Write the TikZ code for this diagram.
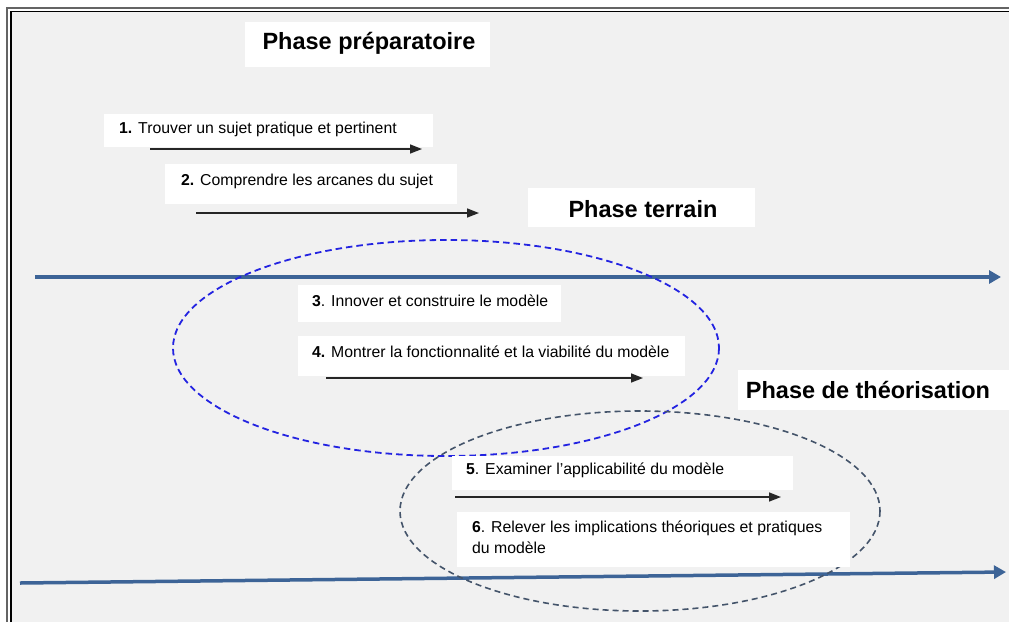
\documentclass[tikz,border=0pt]{standalone}
\usepackage{fontspec}
\setmainfont{Liberation Sans}
\usetikzlibrary{arrows.meta}
\definecolor{bg}{RGB}{241,241,241}
\definecolor{axis}{RGB}{61,100,151}
\definecolor{ellblue}{RGB}{35,35,225}
\definecolor{ellgray}{RGB}{68,84,106}
\definecolor{framegray}{RGB}{100,100,100}
\tikzset{
  whitebox/.style={fill=white, draw=none, inner sep=0pt, anchor=north west},
  steptext/.style={anchor=west, inner sep=0pt, font=\fontsize{15.8}{20.5}\selectfont, align=left},
  phasetext/.style={inner sep=0pt, font=\fontsize{23.5}{28}\selectfont\bfseries},
  steparrow/.style={line width=1.5pt, draw=black!85, -{Triangle[length=12pt,width=9pt]}},
  axisarrow/.style={line width=3.5pt, draw=axis, -{Triangle[length=12pt,width=13pt]}},
  ellipseblue/.style={draw=ellblue, line width=1.8pt, dash pattern=on 6.5pt off 4pt},
  ellipsegray/.style={draw=ellgray, line width=1.6pt, dash pattern=on 6pt off 4pt},
}
\begin{document}
\begin{tikzpicture}[x=1pt,y=-1pt]
\useasboundingbox (0,0) rectangle (1009,622);
\fill[white] (0,0) rectangle (1009,622);
\fill[bg] (12,12) rectangle (1009,622);
% frame
\draw[framegray, line width=2.5pt] (7,622) -- (7,8) -- (1009,8);
\draw[black, line width=1.5pt] (11,622) -- (11,11.5) -- (1009,11.5);

% phase titles
\node[whitebox, minimum width=245pt, minimum height=45pt] (pprep) at (245,22) {};
\node[phasetext] (tprep) at (369,43) {Phase préparatoire};
\node[whitebox, minimum width=227pt, minimum height=39pt] (pterr) at (528,188) {};
\node[phasetext] (tterr) at (643,209) {Phase terrain};
\node[whitebox, minimum width=271pt, minimum height=40pt] (ptheo) at (738,370) {};
\node[phasetext] (ttheo) at (868,390) {Phase de théorisation};

% axes
\coordinate (a1s) at (35,277);
\coordinate (a1e) at (1001,277);
\draw[axisarrow] (a1s) -- (a1e);
\coordinate (a2s) at (20,583);
\coordinate (a2e) at (1006,572);
\draw[axisarrow] (a2s) -- (a2e);

% ellipses
\draw[ellipseblue] (446,348) ellipse [x radius=273, y radius=108];
\draw[ellipsegray] (640,511) ellipse [x radius=240, y radius=100];

% step boxes
\node[whitebox, minimum width=329pt, minimum height=33pt] (b1) at (104,114) {};
\node[steptext] (t1) at (119,129) {\textbf{1.} Trouver un sujet pratique et pertinent};
\node[whitebox, minimum width=292pt, minimum height=40pt] (b2) at (165,164) {};
\node[steptext] (t2) at (181,181) {\textbf{2.} Comprendre les arcanes du sujet};
\node[whitebox, minimum width=263pt, minimum height=37pt] (b3) at (298,285) {};
\node[steptext] (t3) at (312,301) {\textbf{3}. Innover et construire le modèle};
\node[whitebox, minimum width=387pt, minimum height=40pt] (b4) at (298,336) {};
\node[steptext] (t4) at (312,352) {\textbf{4.} Montrer la fonctionnalité et la viabilité du modèle};
\node[whitebox, minimum width=341pt, minimum height=34pt] (b5) at (452,456) {};
\node[steptext] (t5) at (466,470) {\textbf{5}. Examiner l’applicabilité du modèle};
\node[whitebox, minimum width=393pt, minimum height=55pt] (b6) at (457,512) {};
\node[steptext] (t6) at (472,537) {\textbf{6}. Relever les implications théoriques et pratiques\\du modèle};

% step arrows
\coordinate (s1) at (150,149); \coordinate (e1) at (422,149);
\draw[steparrow] (s1) -- (e1);
\coordinate (s2) at (196,213); \coordinate (e2) at (479,213);
\draw[steparrow] (s2) -- (e2);
\coordinate (s4) at (326,378); \coordinate (e4) at (643,378);
\draw[steparrow] (s4) -- (e4);
\coordinate (s5) at (455,497); \coordinate (e5) at (781,497);
\draw[steparrow] (s5) -- (e5);
\end{tikzpicture}
\end{document}
